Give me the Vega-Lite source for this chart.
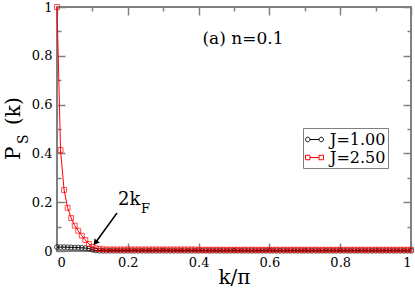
{
  "$schema": "https://vega.github.io/schema/vega-lite/v6.json",
  "autosize": {"type": "none"},
  "width": 354,
  "height": 244,
  "padding": {"left": 57, "top": 7, "right": 4, "bottom": 40},
  "background": "white",
  "config": {
    "view": {"stroke": "#808080", "strokeWidth": 2},
    "font": "DejaVu Serif",
    "axis": {"grid": false, "domain": false, "tickColor": "#808080", "tickWidth": 1.5, "labelColor": "black", "labelFont": "DejaVu Serif", "labelFontSize": 13, "titleFont": "DejaVu Serif", "titleFontWeight": "normal", "titleColor": "black"}
  },
  "title": {"text": "(a) n=0.1", "anchor": "middle", "dx": 9, "dy": 51, "fontSize": 17, "font": "DejaVu Serif", "fontWeight": "normal", "color": "black"},
  "datasets": {
    "ps": [
      {"k":0,"J":"J=1.00","P":0.016},{"k":0.01,"J":"J=1.00","P":0.016},{"k":0.02,"J":"J=1.00","P":0.016},{"k":0.03,"J":"J=1.00","P":0.015},{"k":0.04,"J":"J=1.00","P":0.015},{"k":0.05,"J":"J=1.00","P":0.014},{"k":0.06,"J":"J=1.00","P":0.014},{"k":0.07,"J":"J=1.00","P":0.013},{"k":0.08,"J":"J=1.00","P":0.012},{"k":0.09,"J":"J=1.00","P":0.010},
      {"k":0.1,"J":"J=1.00","P":0.005},{"k":0.11,"J":"J=1.00","P":0.002},{"k":0.12,"J":"J=1.00","P":0.001},{"k":0.13,"J":"J=1.00","P":0.001},{"k":0.14,"J":"J=1.00","P":0.001},{"k":0.15,"J":"J=1.00","P":0.001},{"k":0.16,"J":"J=1.00","P":0.001},{"k":0.17,"J":"J=1.00","P":0.001},{"k":0.18,"J":"J=1.00","P":0.001},{"k":0.19,"J":"J=1.00","P":0.001},
      {"k":0.2,"J":"J=1.00","P":0.001},{"k":0.21,"J":"J=1.00","P":0.001},{"k":0.22,"J":"J=1.00","P":0.001},{"k":0.23,"J":"J=1.00","P":0.001},{"k":0.24,"J":"J=1.00","P":0.001},{"k":0.25,"J":"J=1.00","P":0.001},{"k":0.26,"J":"J=1.00","P":0.001},{"k":0.27,"J":"J=1.00","P":0.001},{"k":0.28,"J":"J=1.00","P":0.001},{"k":0.29,"J":"J=1.00","P":0.001},
      {"k":0.3,"J":"J=1.00","P":0.001},{"k":0.31,"J":"J=1.00","P":0.001},{"k":0.32,"J":"J=1.00","P":0.001},{"k":0.33,"J":"J=1.00","P":0.001},{"k":0.34,"J":"J=1.00","P":0.001},{"k":0.35,"J":"J=1.00","P":0.001},{"k":0.36,"J":"J=1.00","P":0.001},{"k":0.37,"J":"J=1.00","P":0.001},{"k":0.38,"J":"J=1.00","P":0.001},{"k":0.39,"J":"J=1.00","P":0.001},
      {"k":0.4,"J":"J=1.00","P":0.001},{"k":0.41,"J":"J=1.00","P":0.001},{"k":0.42,"J":"J=1.00","P":0.001},{"k":0.43,"J":"J=1.00","P":0.001},{"k":0.44,"J":"J=1.00","P":0.001},{"k":0.45,"J":"J=1.00","P":0.001},{"k":0.46,"J":"J=1.00","P":0.001},{"k":0.47,"J":"J=1.00","P":0.001},{"k":0.48,"J":"J=1.00","P":0.001},{"k":0.49,"J":"J=1.00","P":0.001},
      {"k":0.5,"J":"J=1.00","P":0.001},{"k":0.51,"J":"J=1.00","P":0.001},{"k":0.52,"J":"J=1.00","P":0.001},{"k":0.53,"J":"J=1.00","P":0.001},{"k":0.54,"J":"J=1.00","P":0.001},{"k":0.55,"J":"J=1.00","P":0.001},{"k":0.56,"J":"J=1.00","P":0.001},{"k":0.57,"J":"J=1.00","P":0.001},{"k":0.58,"J":"J=1.00","P":0.001},{"k":0.59,"J":"J=1.00","P":0.001},
      {"k":0.6,"J":"J=1.00","P":0.001},{"k":0.61,"J":"J=1.00","P":0.001},{"k":0.62,"J":"J=1.00","P":0.001},{"k":0.63,"J":"J=1.00","P":0.001},{"k":0.64,"J":"J=1.00","P":0.001},{"k":0.65,"J":"J=1.00","P":0.001},{"k":0.66,"J":"J=1.00","P":0.001},{"k":0.67,"J":"J=1.00","P":0.001},{"k":0.68,"J":"J=1.00","P":0.001},{"k":0.69,"J":"J=1.00","P":0.001},
      {"k":0.7,"J":"J=1.00","P":0.001},{"k":0.71,"J":"J=1.00","P":0.001},{"k":0.72,"J":"J=1.00","P":0.001},{"k":0.73,"J":"J=1.00","P":0.001},{"k":0.74,"J":"J=1.00","P":0.001},{"k":0.75,"J":"J=1.00","P":0.001},{"k":0.76,"J":"J=1.00","P":0.001},{"k":0.77,"J":"J=1.00","P":0.001},{"k":0.78,"J":"J=1.00","P":0.001},{"k":0.79,"J":"J=1.00","P":0.001},
      {"k":0.8,"J":"J=1.00","P":0.001},{"k":0.81,"J":"J=1.00","P":0.001},{"k":0.82,"J":"J=1.00","P":0.001},{"k":0.83,"J":"J=1.00","P":0.001},{"k":0.84,"J":"J=1.00","P":0.001},{"k":0.85,"J":"J=1.00","P":0.001},{"k":0.86,"J":"J=1.00","P":0.001},{"k":0.87,"J":"J=1.00","P":0.001},{"k":0.88,"J":"J=1.00","P":0.001},{"k":0.89,"J":"J=1.00","P":0.001},
      {"k":0.9,"J":"J=1.00","P":0.001},{"k":0.91,"J":"J=1.00","P":0.001},{"k":0.92,"J":"J=1.00","P":0.001},{"k":0.93,"J":"J=1.00","P":0.001},{"k":0.94,"J":"J=1.00","P":0.001},{"k":0.95,"J":"J=1.00","P":0.001},{"k":0.96,"J":"J=1.00","P":0.001},{"k":0.97,"J":"J=1.00","P":0.001},{"k":0.98,"J":"J=1.00","P":0.001},{"k":0.99,"J":"J=1.00","P":0.001},{"k":1,"J":"J=1.00","P":0.001},
      {"k":0,"J":"J=2.50","P":1.0},{"k":0.01,"J":"J=2.50","P":0.414},{"k":0.02,"J":"J=2.50","P":0.25},{"k":0.03,"J":"J=2.50","P":0.177},{"k":0.04,"J":"J=2.50","P":0.135},{"k":0.05,"J":"J=2.50","P":0.104},{"k":0.06,"J":"J=2.50","P":0.083},{"k":0.07,"J":"J=2.50","P":0.063},{"k":0.08,"J":"J=2.50","P":0.045},{"k":0.09,"J":"J=2.50","P":0.029},
      {"k":0.1,"J":"J=2.50","P":0.017},{"k":0.11,"J":"J=2.50","P":0.011},{"k":0.12,"J":"J=2.50","P":0.008},{"k":0.13,"J":"J=2.50","P":0.007},{"k":0.14,"J":"J=2.50","P":0.006},{"k":0.15,"J":"J=2.50","P":0.006},{"k":0.16,"J":"J=2.50","P":0.006},{"k":0.17,"J":"J=2.50","P":0.006},{"k":0.18,"J":"J=2.50","P":0.006},{"k":0.19,"J":"J=2.50","P":0.006},
      {"k":0.2,"J":"J=2.50","P":0.006},{"k":0.21,"J":"J=2.50","P":0.006},{"k":0.22,"J":"J=2.50","P":0.006},{"k":0.23,"J":"J=2.50","P":0.006},{"k":0.24,"J":"J=2.50","P":0.006},{"k":0.25,"J":"J=2.50","P":0.006},{"k":0.26,"J":"J=2.50","P":0.006},{"k":0.27,"J":"J=2.50","P":0.006},{"k":0.28,"J":"J=2.50","P":0.006},{"k":0.29,"J":"J=2.50","P":0.006},
      {"k":0.3,"J":"J=2.50","P":0.006},{"k":0.31,"J":"J=2.50","P":0.006},{"k":0.32,"J":"J=2.50","P":0.006},{"k":0.33,"J":"J=2.50","P":0.006},{"k":0.34,"J":"J=2.50","P":0.006},{"k":0.35,"J":"J=2.50","P":0.006},{"k":0.36,"J":"J=2.50","P":0.006},{"k":0.37,"J":"J=2.50","P":0.006},{"k":0.38,"J":"J=2.50","P":0.006},{"k":0.39,"J":"J=2.50","P":0.006},
      {"k":0.4,"J":"J=2.50","P":0.005},{"k":0.41,"J":"J=2.50","P":0.005},{"k":0.42,"J":"J=2.50","P":0.005},{"k":0.43,"J":"J=2.50","P":0.005},{"k":0.44,"J":"J=2.50","P":0.005},{"k":0.45,"J":"J=2.50","P":0.005},{"k":0.46,"J":"J=2.50","P":0.005},{"k":0.47,"J":"J=2.50","P":0.005},{"k":0.48,"J":"J=2.50","P":0.005},{"k":0.49,"J":"J=2.50","P":0.005},
      {"k":0.5,"J":"J=2.50","P":0.005},{"k":0.51,"J":"J=2.50","P":0.005},{"k":0.52,"J":"J=2.50","P":0.005},{"k":0.53,"J":"J=2.50","P":0.005},{"k":0.54,"J":"J=2.50","P":0.005},{"k":0.55,"J":"J=2.50","P":0.005},{"k":0.56,"J":"J=2.50","P":0.005},{"k":0.57,"J":"J=2.50","P":0.005},{"k":0.58,"J":"J=2.50","P":0.005},{"k":0.59,"J":"J=2.50","P":0.005},
      {"k":0.6,"J":"J=2.50","P":0.005},{"k":0.61,"J":"J=2.50","P":0.005},{"k":0.62,"J":"J=2.50","P":0.005},{"k":0.63,"J":"J=2.50","P":0.005},{"k":0.64,"J":"J=2.50","P":0.005},{"k":0.65,"J":"J=2.50","P":0.005},{"k":0.66,"J":"J=2.50","P":0.005},{"k":0.67,"J":"J=2.50","P":0.005},{"k":0.68,"J":"J=2.50","P":0.005},{"k":0.69,"J":"J=2.50","P":0.005},
      {"k":0.7,"J":"J=2.50","P":0.005},{"k":0.71,"J":"J=2.50","P":0.005},{"k":0.72,"J":"J=2.50","P":0.005},{"k":0.73,"J":"J=2.50","P":0.005},{"k":0.74,"J":"J=2.50","P":0.005},{"k":0.75,"J":"J=2.50","P":0.005},{"k":0.76,"J":"J=2.50","P":0.005},{"k":0.77,"J":"J=2.50","P":0.005},{"k":0.78,"J":"J=2.50","P":0.005},{"k":0.79,"J":"J=2.50","P":0.005},
      {"k":0.8,"J":"J=2.50","P":0.005},{"k":0.81,"J":"J=2.50","P":0.005},{"k":0.82,"J":"J=2.50","P":0.005},{"k":0.83,"J":"J=2.50","P":0.005},{"k":0.84,"J":"J=2.50","P":0.005},{"k":0.85,"J":"J=2.50","P":0.005},{"k":0.86,"J":"J=2.50","P":0.005},{"k":0.87,"J":"J=2.50","P":0.005},{"k":0.88,"J":"J=2.50","P":0.005},{"k":0.89,"J":"J=2.50","P":0.005},
      {"k":0.9,"J":"J=2.50","P":0.005},{"k":0.91,"J":"J=2.50","P":0.005},{"k":0.92,"J":"J=2.50","P":0.005},{"k":0.93,"J":"J=2.50","P":0.005},{"k":0.94,"J":"J=2.50","P":0.005},{"k":0.95,"J":"J=2.50","P":0.005},{"k":0.96,"J":"J=2.50","P":0.005},{"k":0.97,"J":"J=2.50","P":0.005},{"k":0.98,"J":"J=2.50","P":0.005},{"k":0.99,"J":"J=2.50","P":0.005},{"k":1,"J":"J=2.50","P":0.005}
    ],
    "ann": [{"k": 0.1723, "P": 0.1885, "text": "2k", "sub": "F"}],
    "arrow": [{"k": 0.1695, "P": 0.1557, "k2": 0.1085, "P2": 0.0336}],
    "ylab": [{"k": -0.1045, "P": 0.373, "main": "P", "sub": "S", "tail": "(k)"}]
  },
  "resolve": {"axis": {"x": "independent", "y": "independent"}, "scale": {"shape": "independent", "color": "independent"}},
  "layer": [
    {
      "data": {"name": "ps"},
      "mark": {"type": "line", "strokeWidth": 1},
      "encoding": {
        "x": {"field": "k", "type": "quantitative", "scale": {"domain": [0, 1], "nice": false},
          "axis": {"orient": "bottom", "values": [0,0.1,0.2,0.3,0.4,0.5,0.6,0.7,0.8,0.9,1], "format": ".1~f",
            "labelExpr": "round(datum.value*10)%2==1 ? '' : datum.label",
            "tickSize": {"condition": {"test": "round(datum.value*10)%2==1", "value": -4}, "value": -8},
            "labelPadding": 13, "title": "k/π", "titleFontSize": 20, "titlePadding": -2}},
        "y": {"field": "P", "type": "quantitative", "scale": {"domain": [0, 1], "nice": false},
          "axis": {"orient": "left", "values": [0,0.1,0.2,0.3,0.4,0.5,0.6,0.7,0.8,0.9,1], "format": ".1~f",
            "labelExpr": "round(datum.value*10)%2==1 ? '' : datum.label",
            "tickSize": {"condition": {"test": "round(datum.value*10)%2==1", "value": -4}, "value": -8},
            "labelPadding": 13, "title": null}},
        "color": {"field": "J", "type": "nominal", "scale": {"domain": ["J=1.00", "J=2.50"], "range": ["#000000", "#ff0000"]}, "legend": null}
      }
    },
    {
      "data": {"name": "ps"},
      "mark": {"type": "point", "filled": false, "strokeWidth": 1, "size": 24},
      "encoding": {
        "x": {"field": "k", "type": "quantitative",
          "axis": {"orient": "top", "values": [0,0.1,0.2,0.3,0.4,0.5,0.6,0.7,0.8,0.9,1], "labels": false,
            "tickSize": {"condition": {"test": "round(datum.value*10)%2==1", "value": -4}, "value": -8}, "title": null}},
        "y": {"field": "P", "type": "quantitative",
          "axis": {"orient": "right", "values": [0,0.1,0.2,0.3,0.4,0.5,0.6,0.7,0.8,0.9,1], "labels": false,
            "tickSize": {"condition": {"test": "round(datum.value*10)%2==1", "value": -4}, "value": -8}, "title": null}},
        "color": {"field": "J", "type": "nominal", "scale": {"domain": ["J=1.00", "J=2.50"], "range": ["#000000", "#ff0000"]}, "legend": null},
        "shape": {"field": "J", "type": "nominal", "scale": {"domain": ["J=1.00", "J=2.50"], "range": ["circle", "square"]}, "legend": null}
      }
    },
    {
      "data": {"name": "ps"},
      "mark": {"type": "point", "filled": false, "strokeWidth": 1, "opacity": 0},
      "encoding": {
        "x": {"field": "k", "type": "quantitative", "axis": null},
        "y": {"field": "P", "type": "quantitative", "axis": null},
        "color": {"field": "J", "type": "nominal", "scale": {"domain": ["J=1.00", "J=2.50"], "range": ["#000000", "#ff0000"]},
          "legend": {"orient": "none", "legendX": 246, "legendY": 121, "title": null, "padding": 2, "strokeColor": "#808080", "fillColor": "white", "labelFont": "DejaVu Serif", "labelFontSize": 16, "labelColor": "black", "symbolSize": 324, "symbolOpacity": 1, "symbolStrokeWidth": 1, "rowPadding": 0, "labelOffset": 6}},
        "shape": {"field": "J", "type": "nominal", "scale": {"domain": ["J=1.00", "J=2.50"], "range": [
          "M-1,0A0.25,0.25 0 1,0 -0.5,0A0.25,0.25 0 1,0 -1,0ZM-0.5,0H0.5M0.5,0A0.25,0.25 0 1,0 1,0A0.25,0.25 0 1,0 0.5,0Z",
          "M-1,-0.25H-0.5V0.25H-1ZM-0.5,0H0.5M0.5,-0.25H1V0.25H0.5Z"]},
          "legend": {"orient": "none", "legendX": 246, "legendY": 121, "title": null, "padding": 2, "strokeColor": "#808080", "fillColor": "white", "labelFont": "DejaVu Serif", "labelFontSize": 16, "labelColor": "black", "symbolSize": 324, "symbolOpacity": 1, "symbolStrokeWidth": 1, "rowPadding": 0, "labelOffset": 6}}
      }
    },
    {
      "data": {"name": "arrow"},
      "mark": {"type": "rule", "strokeWidth": 1.5, "color": "black"},
      "encoding": {
        "x": {"field": "k", "type": "quantitative", "axis": null},
        "y": {"field": "P", "type": "quantitative", "axis": null},
        "x2": {"field": "k2"},
        "y2": {"field": "P2"}
      }
    },
    {
      "data": {"name": "arrow"},
      "mark": {"type": "point", "shape": "triangle-up", "filled": true, "color": "black", "size": 45, "angle": 217, "opacity": 1},
      "encoding": {
        "x": {"field": "k2", "type": "quantitative", "axis": null},
        "y": {"field": "P2", "type": "quantitative", "axis": null}
      }
    },
    {
      "data": {"name": "ann"},
      "mark": {"type": "text", "align": "left", "baseline": "alphabetic", "font": "DejaVu Serif", "fontSize": 18, "color": "black"},
      "encoding": {
        "x": {"field": "k", "type": "quantitative", "axis": null},
        "y": {"field": "P", "type": "quantitative", "axis": null},
        "text": {"field": "text"}
      }
    },
    {
      "data": {"name": "ann"},
      "mark": {"type": "text", "align": "left", "baseline": "alphabetic", "font": "DejaVu Serif", "fontSize": 13, "color": "black", "dx": 23, "dy": 8},
      "encoding": {
        "x": {"field": "k", "type": "quantitative", "axis": null},
        "y": {"field": "P", "type": "quantitative", "axis": null},
        "text": {"field": "sub"}
      }
    },
    {
      "data": {"name": "ylab"},
      "mark": {"type": "text", "align": "left", "baseline": "alphabetic", "angle": 270, "font": "DejaVu Serif", "fontSize": 20, "color": "black"},
      "encoding": {
        "x": {"field": "k", "type": "quantitative", "axis": null},
        "y": {"field": "P", "type": "quantitative", "axis": null},
        "text": {"field": "main"}
      }
    },
    {
      "data": {"name": "ylab"},
      "mark": {"type": "text", "align": "left", "baseline": "alphabetic", "angle": 270, "font": "DejaVu Serif", "fontSize": 14, "color": "black", "dx": 16, "dy": 8},
      "encoding": {
        "x": {"field": "k", "type": "quantitative", "axis": null},
        "y": {"field": "P", "type": "quantitative", "axis": null},
        "text": {"field": "sub"}
      }
    },
    {
      "data": {"name": "ylab"},
      "mark": {"type": "text", "align": "left", "baseline": "alphabetic", "angle": 270, "font": "DejaVu Serif", "fontSize": 20, "color": "black", "dx": 35},
      "encoding": {
        "x": {"field": "k", "type": "quantitative", "axis": null},
        "y": {"field": "P", "type": "quantitative", "axis": null},
        "text": {"field": "tail"}
      }
    }
  ]
}
